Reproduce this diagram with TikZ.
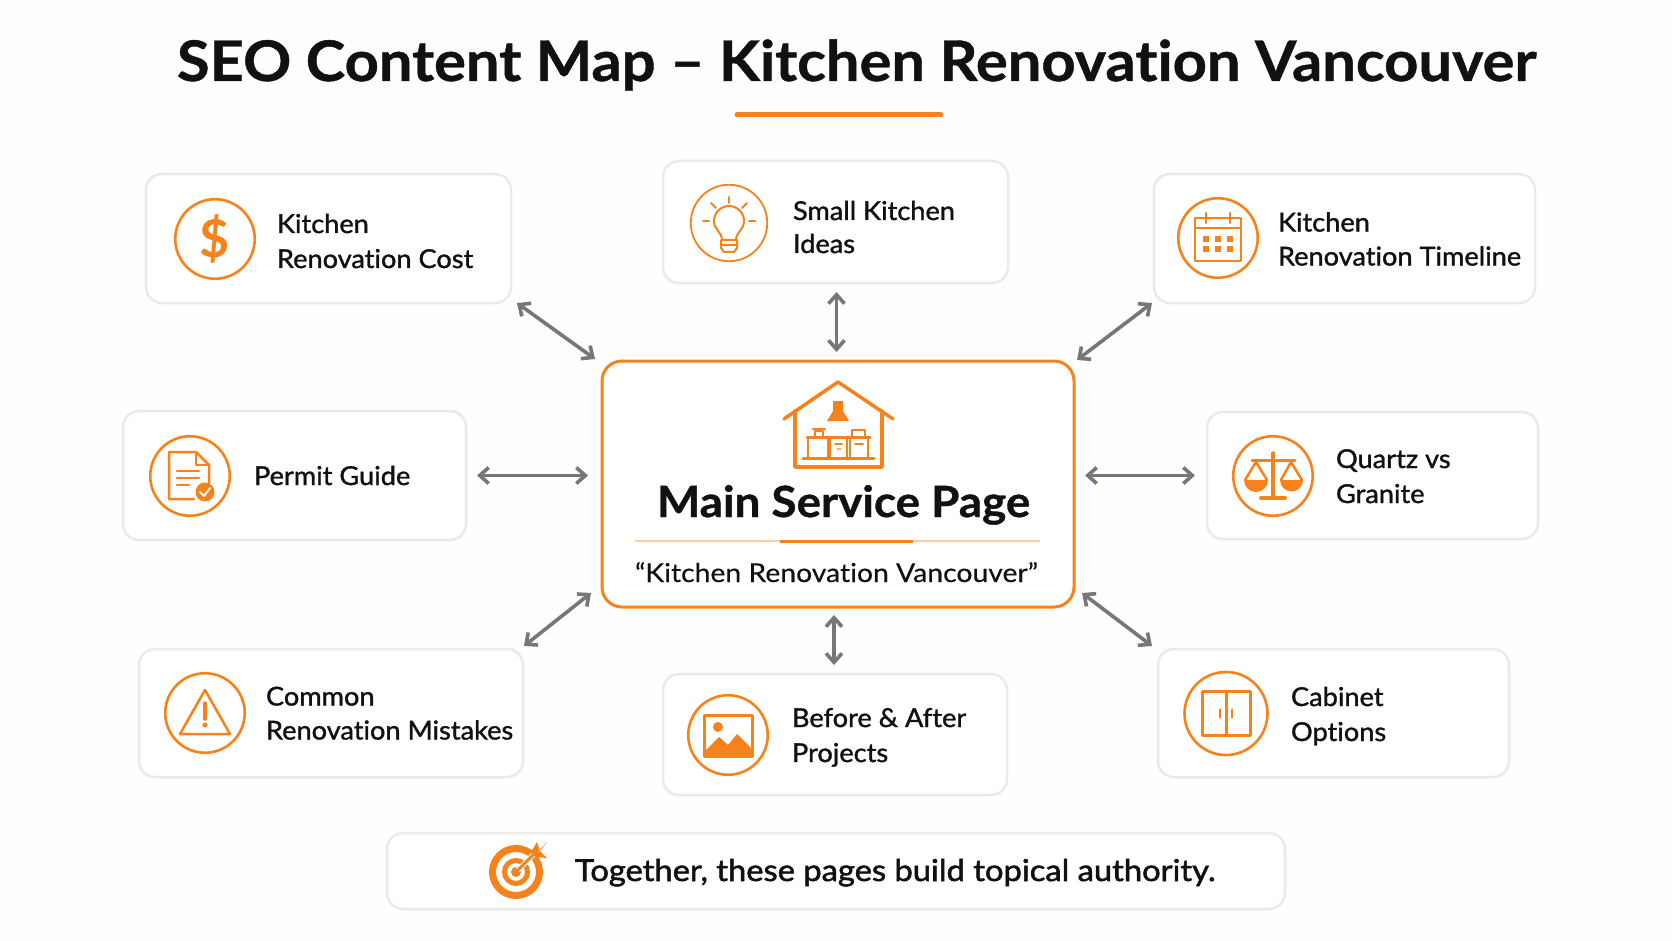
\documentclass[tikz,border=0pt]{standalone}
\usepackage{fontspec}
\usetikzlibrary{arrows.meta}
\setmainfont{Lato}[Ligatures=NoCommon]
\newfontfamily\headfont{Lato}[Ligatures=NoCommon,BoldFeatures={FakeBold=0.8,FakeStretch=1.065}]
\newfontfamily\cardfont{Lato}[Ligatures=NoCommon,FakeBold=1.3,FakeStretch=1.045]
\newfontfamily\subfont{Lato}[Ligatures=NoCommon,FakeBold=0.3,FakeStretch=1.09]
\newfontfamily\notefont{Lato}[Ligatures=NoCommon,FakeBold=1.8,FakeStretch=1.09]
\definecolor{brand}{HTML}{F5821A}
\definecolor{edge}{HTML}{EAEAEA}
\definecolor{arrowgray}{HTML}{777777}
\definecolor{ink}{HTML}{111111}
\begin{document}
\begin{tikzpicture}[x=1pt,y=1pt,
    every node/.style={inner sep=0pt,outer sep=0pt},
    card/.style={draw=edge,fill=white,line width=2.5pt,rounded corners=16pt},
    ring/.style={circle,draw=brand,line width=2.6pt,minimum size=79.5pt},
    cardtext/.style={anchor=base west,align=left,text=ink,font=\cardfont\fontsize{26}{35}\selectfont},
    icon/.style={draw=brand,line width=2.5pt,line cap=round,line join=round},
    solid icon/.style={fill=brand,draw=none},
    link/.style={draw=arrowgray,line width=3.6pt,{Straight Barb[length=9pt,width=16pt]}-{Straight Barb[length=9pt,width=16pt]}}]
\useasboundingbox (0,0) rectangle (1672,-941);
\fill [white!99.5!black] (0,0) rectangle (1672,-941);

\node [anchor=base west,text=ink,font=\headfont\bfseries\fontsize{56}{60}\selectfont] (title) at (177,-81) {SEO Content Map – Kitchen Renovation Vancouver};
\draw [brand,line width=5pt,line cap=round] (737,-115) -- (941,-115);

\node [card,minimum width=365pt,minimum height=129pt] (cost) at (328.5,-238.5) {};
\node [card,minimum width=345pt,minimum height=122pt] (ideas) at (835.5,-222) {};
\node [card,minimum width=381pt,minimum height=129pt] (timeline) at (1344.5,-238.5) {};
\node [card,minimum width=343pt,minimum height=129pt] (permit) at (294.5,-475.5) {};
\node [card,minimum width=331pt,minimum height=127pt] (quartz) at (1372.5,-475.5) {};
\node [card,minimum width=384pt,minimum height=128pt] (mistakes) at (331,-713) {};
\node [card,minimum width=344pt,minimum height=121pt] (projects) at (835,-734.5) {};
\node [card,minimum width=351pt,minimum height=128pt] (cabinet) at (1333.5,-713) {};
\node [card,minimum width=898pt,minimum height=76pt] (summary) at (836,-871) {};
\node [draw=brand,fill=white,line width=3pt,rounded corners=20pt,minimum width=472pt,minimum height=246pt] (main) at (838,-484) {};

\draw [link] ([shift={(6,0)}]cost.south east) -- ([shift={(-7,2)}]main.north west);
\draw [link] (ideas.south) ++(1,-9) -- ++(0,-60);
\draw [link] ([shift={(-2,0)}]timeline.south west) -- ([shift={(3,1)}]main.north east);
\draw [link,shorten <=11pt,shorten >=14pt] (permit.east) -- (permit.east -| main.west);
\draw [link,shorten <=11pt,shorten >=12pt] (quartz.west -| main.east) -- (quartz.west);
\draw [link] ([shift={(1,3)}]mistakes.north east) -- ([shift={(-11,14)}]main.south west);
\draw [link,shorten <=8pt,shorten >=9pt] ([xshift=-1pt]projects.north |- main.south) -- ([xshift=-1pt]projects.north);
\draw [link] ([shift={(8,14)}]main.south east) -- ([shift={(-6,3)}]cabinet.north west);

\draw [icon,line width=3.5pt] (784,-419) -- (838,-382) -- (893,-419);
\draw [icon,line width=3.5pt] (795,-411) -- (795,-467) -- (882,-467) -- (882,-411);
\fill [solid icon] (833,-401) -- (843,-401) -- (843,-411) -- (849,-421) -- (827,-421) -- (833,-411) -- cycle;
\draw [icon,line width=3pt] (807,-437) -- (870,-437);
\draw [icon,line width=2.5pt] (808,-437) rectangle (828,-458);
\draw [icon,line width=2.5pt] (830,-437) rectangle (847,-458);
\draw [icon,line width=2.5pt] (850,-437) rectangle (868,-458);
\draw [icon,line width=3pt] (803,-458) -- (874,-458);
\draw [icon,line width=2.5pt] (815,-431) rectangle (823,-437);
\draw [icon,line width=2.5pt] (813,-429) -- (825,-429);
\draw [icon,line width=2.5pt] (852,-430) rectangle (865,-437);
\draw [icon,line width=1.8pt] (835,-444) -- (842,-444);
\draw [icon,line width=1.2pt,brand!60] (837,-449) -- (841,-449);
\draw [icon,line width=1.8pt] (855,-444) -- (863,-444);
\node [anchor=base west,text=ink,font=\headfont\bfseries\fontsize{43}{46}\selectfont] (maintitle) at (657,-517) {Main Service Page};
\draw [brand!40,line width=1.5pt] (635,-541) -- (1040,-541);
\draw [brand,line width=3pt] (780,-541) -- (913,-541);
\node [anchor=base west,text=ink,font=\subfont\fontsize{26}{30}\selectfont] (mainsub) at (635,-582) {“Kitchen Renovation Vancouver”};

\node [ring] (costring) at (215,-239) {};
\node [text=brand,font=\bfseries\fontsize{52}{52}\selectfont] (costsign) at (215,-239) {\$};
\node [cardtext] (costtext) at (277,-268) {Kitchen\\Renovation Cost};

\node [ring,line width=1.8pt,minimum size=76.5pt] (ideasring) at (729,-223) {};
\begin{scope}[shift={(729,-223)}]
\draw [icon,line width=2pt] (-7,-17) .. controls (-7,-9) and (-15,-7) .. (-15,2) arc (180:0:15) .. controls (15,-7) and (7,-9) .. (7,-17);
\draw [icon,line width=2pt] (-8,-17) -- (8,-17) -- (8,-25) -- (5,-29) -- (-5,-29) -- (-8,-25) -- cycle;
\draw [icon,line width=2pt] (-8,-22) -- (8,-22);
\draw [icon,line width=2pt] (0,26) -- (0,20);
\draw [icon,line width=2pt] (-18,20) -- (-13,15);
\draw [icon,line width=2pt] (18,20) -- (13,15);
\draw [icon,line width=2pt] (-26,2) -- (-20,2);
\draw [icon,line width=2pt] (26,2) -- (20,2);
\end{scope}
\node [cardtext] (ideastext) at (793,-253) {Small Kitchen\\[-2pt]Ideas};

\node [ring] (timelinering) at (1218,-238) {};
\begin{scope}[shift={(1218,-238)}]
\draw [icon] (-23,20) rectangle (23,-23);
\draw [icon] (-23,10) -- (23,10);
\draw [icon] (-12,25) -- (-12,15);
\draw [icon] (12,25) -- (12,15);
\fill [solid icon] (-15,-4) rectangle (-9,2);
\fill [solid icon] (-3,-4) rectangle (3,2);
\fill [solid icon] (9,-4) rectangle (15,2);
\fill [solid icon] (-15,-14) rectangle (-9,-8);
\fill [solid icon] (-3,-14) rectangle (3,-8);
\fill [solid icon] (9,-14) rectangle (15,-8);
\end{scope}
\node [cardtext] (timelinetext) at (1278,-265.5) {Kitchen\\[-1pt]Renovation Timeline};

\node [ring] (permitring) at (190,-476) {};
\begin{scope}[shift={(190,-476)}]
\draw [icon] (19,-7) -- (19,11) -- (6,24) -- (-21,24) -- (-21,-23) -- (4,-23);
\draw [icon] (6,24) -- (6,11) -- (19,11);
\draw [icon] (-13,5) -- (9,5);
\draw [icon] (-13,-2) -- (9,-2);
\draw [icon] (-13,-9) -- (-1,-9);
\fill [solid icon] (15,-16) circle (9.5);
\draw [white,line width=2pt,line cap=round,line join=round] (10,-16) -- (14,-20) -- (20,-12);
\end{scope}
\node [cardtext] (permittext) at (254,-485) {Permit Guide};

\node [ring] (quartzring) at (1273,-476) {};
\begin{scope}[shift={(1273,-476)}]
\draw [icon,line width=3.5pt] (0,23) -- (0,-22);
\draw [icon,line width=4pt] (-12,-22) -- (12,-22);
\draw [icon,line width=3pt] (-21,16) -- (22,16);
\draw [icon] (-28,-4) -- (-17,14) -- (-6,-4);
\draw [icon] (8,-4) -- (18,14) -- (29,-4);
\fill [solid icon] (-29,-4) arc (180:360:12) -- cycle;
\fill [solid icon] (7,-4) arc (180:360:11.5) -- cycle;
\end{scope}
\node [cardtext] (quartztext) at (1336,-503) {Quartz vs\\Granite};

\node [ring] (mistakesring) at (205,-713) {};
\begin{scope}[shift={(205,-713)}]
\draw [icon] (0,23) -- (25,-21) -- (-25,-21) -- cycle;
\draw [icon,line width=3.5pt] (0,10) -- (0,-6);
\fill [solid icon] (0,-12) circle (2.5);
\end{scope}
\node [cardtext] (mistakestext) at (266,-739.5) {Common\\[-1pt]Renovation Mistakes};

\node [ring] (projectsring) at (728,-735) {};
\begin{scope}[shift={(728,-735)}]
\draw [icon,line width=3pt] (-24,20) rectangle (24,-21);
\fill [solid icon] (-10,8) circle (5);
\fill [solid icon] (-24,-21) -- (-24,-17) -- (-9,-2) -- (0,-10) -- (9,1) -- (24,-14) -- (24,-21) -- cycle;
\end{scope}
\node [cardtext] (projectstext) at (792,-762) {Before \& After\\Projects};

\node [ring,minimum size=83pt] (cabinetring) at (1226,-713.5) {};
\begin{scope}[shift={(1226,-713.5)}]
\draw [icon,line width=3pt] (-24,22) rectangle (24,-22);
\draw [icon,line width=3pt] (0,22) -- (0,-22);
\draw [icon,line width=2.5pt] (-6,4) -- (-6,-4);
\draw [icon,line width=2.5pt] (6,4) -- (6,-4);
\end{scope}
\node [cardtext] (cabinettext) at (1291,-741) {Cabinet\\Options};

\begin{scope}[shift={(516,-872)}]
\draw [brand,line width=7pt] (0,0) circle (23.5);
\draw [brand,line width=5pt] (0,0) circle (11.5);
\fill [brand] (0,0) circle (5);
\draw [white,line width=5pt] (2,2) -- (22,22);
\draw [brand,line width=3pt] (0,0) -- (22,22);
\fill [brand] (18,16) -- (31,30) -- (24,21) -- (21,30) -- (15,20) -- (20,15) -- (31,14) -- (24,21) -- cycle;
\end{scope}
\node [anchor=base west,text=ink,font=\notefont\fontsize{30}{34}\selectfont] (summarytext) at (575,-881) {Together, these pages build topical authority.};
\end{tikzpicture}
\end{document}
